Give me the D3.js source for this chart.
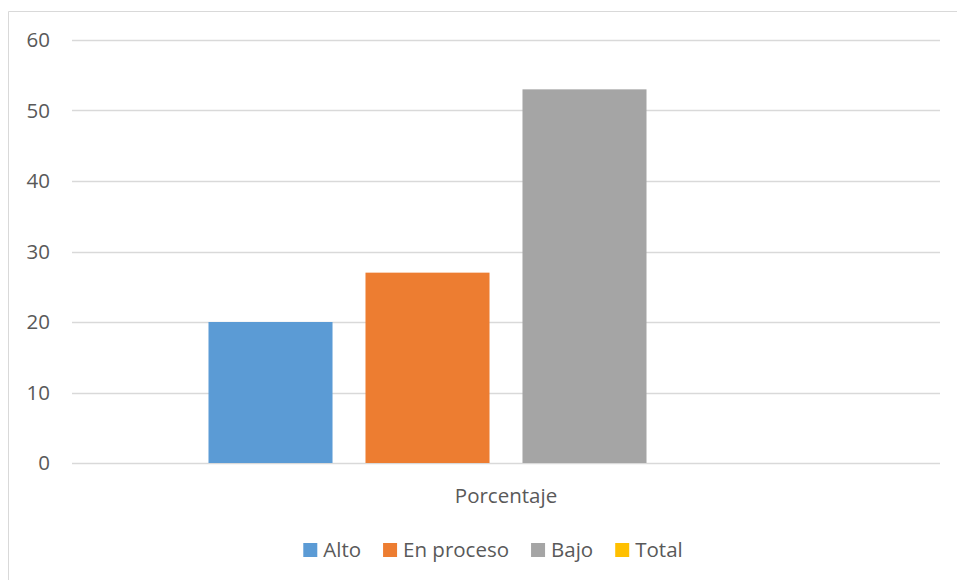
<!DOCTYPE html>
<html><head><meta charset="utf-8">
<script src="https://cdn.jsdelivr.net/npm/d3@7"></script>
<style>body{margin:0;background:#fff;} text{font-family:"Open Sans","Noto Sans",sans-serif;}</style>
</head><body>
<svg id="c" width="957" height="580"></svg>
<script>
const categories = ["Porcentaje"];
const seriesNames = ["Alto", "En proceso", "Bajo", "Total"];
const seriesValues = [20, 27, 53, 0];
const seriesColors = ["#5B9BD5", "#ED7D31", "#A5A5A5", "#FFC000"];
const yTicks = [0, 10, 20, 30, 40, 50, 60];

(function() {
const svg = d3.select("#c");
const fs = 20.5;
// chart border (top and left visible)
svg.append("line").attr("x1", 8.5).attr("x2", 957).attr("y1", 11.5).attr("y2", 11.5).attr("stroke", "#D9D9D9");
svg.append("line").attr("x1", 8.5).attr("x2", 8.5).attr("y1", 11.5).attr("y2", 580).attr("stroke", "#D9D9D9");

const pLeft = 72, pRight = 940, pTop = 40, pBottom = 463;
const y = d3.scaleLinear().domain([0, 60]).range([pBottom, pTop]);
const x0 = d3.scaleBand().domain(categories).range([pLeft, pRight]).paddingInner(0).paddingOuter(0.2294);
const x1 = d3.scaleBand().domain(seriesNames).range([0, x0.bandwidth()]).paddingInner(0.21).paddingOuter(0);

// gridlines
svg.append("g").selectAll("line").data(yTicks).join("line")
  .attr("x1", pLeft).attr("x2", pRight)
  .attr("y1", d => Math.round(y(d)) + 0.5).attr("y2", d => Math.round(y(d)) + 0.5)
  .attr("stroke", "#D9D9D9").attr("stroke-width", 1.3);

// y axis labels
const yAxis = d3.axisLeft(y).tickValues(yTicks).tickSize(0).tickPadding(0);
const ga = svg.append("g").attr("transform", `translate(50,0)`).call(yAxis);
ga.select(".domain").remove();
ga.selectAll("text").attr("font-size", fs).attr("fill", "#595959").attr("font-family", "'Open Sans','Noto Sans',sans-serif");

// bars
const g = svg.append("g").selectAll("g").data(categories).join("g")
  .attr("transform", d => `translate(${x0(d)},0)`);
g.selectAll("rect").data(seriesNames.map((s, i) => ({s, v: seriesValues[i], c: seriesColors[i]}))).join("rect")
  .attr("x", d => x1(d.s)).attr("width", x1.bandwidth())
  .attr("y", d => y(d.v)).attr("height", d => y(0) - y(d.v))
  .attr("fill", d => d.c);

// x axis label
const xAxis = d3.axisBottom(x0).tickSize(0).tickPadding(0);
const gx = svg.append("g").attr("transform", `translate(0,${pBottom + 40})`).call(xAxis);
gx.select(".domain").remove();
gx.selectAll("text").attr("font-size", fs).attr("fill", "#595959").attr("dy", 0).attr("font-family", "'Open Sans','Noto Sans',sans-serif");

// legend
const leg = svg.append("g");
const sq = 14, gapText = 6, itemGap = 22;
const items = leg.selectAll("g").data(seriesNames.map((s, i) => ({s, c: seriesColors[i]}))).join("g");
items.append("rect").attr("width", sq).attr("height", sq).attr("y", -sq).attr("fill", d => d.c);
items.append("text").attr("x", sq + gapText).attr("y", 0).attr("font-size", fs).attr("fill", "#595959").text(d => d.s);
let xs = 0; const pos = [];
items.each(function() { pos.push(xs); xs += this.getBBox().width + itemGap; });
const totalW = xs - itemGap;
items.attr("transform", (d, i) => `translate(${pos[i]},0)`);
leg.attr("transform", `translate(${(pLeft + pRight) / 2 - 13 - totalW / 2},557)`);
})();
</script>
</body></html>
